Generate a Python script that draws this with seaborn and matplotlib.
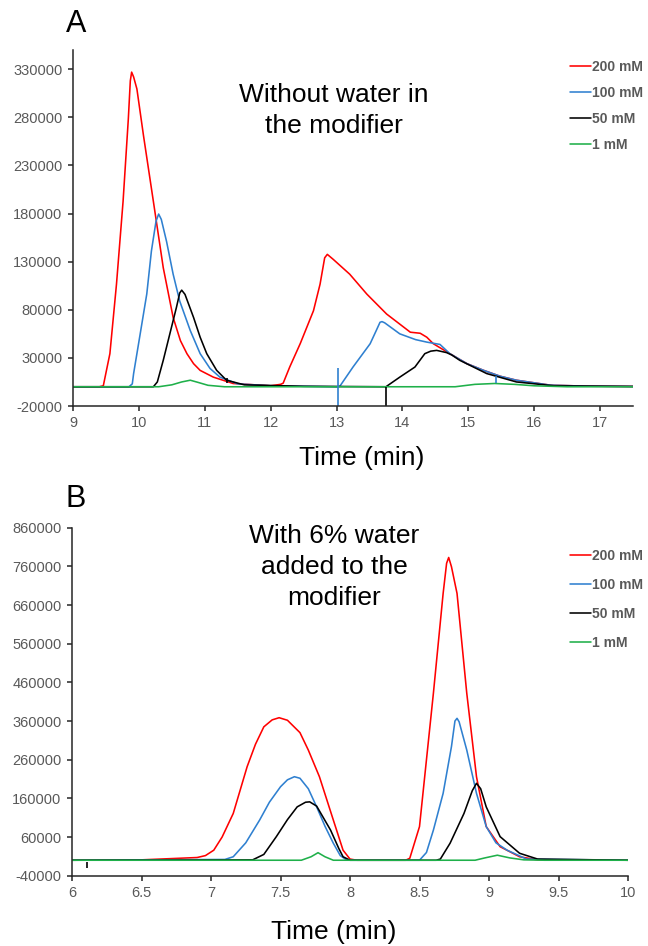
import matplotlib
matplotlib.use('Agg')
import matplotlib.pyplot as plt
import numpy as np
import pandas as pd
import seaborn as sns

##
# panel A : without water (time min, signal)
a_200_t = [9.0, 9.4, 9.46, 9.56, 9.66, 9.76, 9.84, 9.87, 9.89, 9.92, 9.97, 10.07, 10.22, 10.37, 10.52,
           10.63, 10.73, 10.83, 10.93, 11.13, 11.43, 12.0, 12.15, 12.19, 12.29, 12.45, 12.65, 12.75,
           12.82, 12.86, 12.95, 13.2, 13.46, 13.76, 14.12, 14.27, 14.37, 14.47, 14.72, 14.98, 15.23,
           15.48, 15.73, 16.24, 16.8, 17.5]
a_200_v = [0, 0, 1000, 34400, 106600, 192600, 278600, 318000, 327000, 322000, 309500, 261000, 192600,
           123700, 72000, 48000, 34300, 24000, 17000, 10000, 3400, 1000, 2500, 3700, 20600, 45000, 79000,
           106600, 134000, 137600, 132400, 117000, 96300, 75600, 56700, 55600, 51500, 44700, 34400,
           24000, 17100, 11000, 6800, 1700, 600, 300]

a_100_t = [9.0, 9.85, 9.9, 9.92, 10.02, 10.12, 10.19, 10.26, 10.30, 10.34, 10.42, 10.52, 10.62, 10.78,
           10.93, 11.08, 11.23, 11.5, 12.0, 13.0, 13.05, 13.25, 13.51, 13.6, 13.66, 13.69, 13.73, 13.8,
           13.96, 14.2, 14.37, 14.57, 14.72, 14.98, 15.23, 15.48, 15.73, 16.24, 16.8, 17.5]
a_100_v = [0, 0, 3000, 13700, 55000, 96500, 141000, 172000, 179500, 174000, 151000, 117000, 89000,
           58400, 34400, 19000, 10000, 3000, 1000, 0, 500, 20500, 44700, 58000, 67000, 67700, 66500,
           63000, 55000, 49000, 46400, 44000, 34400, 24000, 17100, 11000, 6800, 1700, 600, 300]

a_50_t = [9.0, 10.22, 10.28, 10.37, 10.47, 10.57, 10.62, 10.65, 10.7, 10.83, 10.93, 11.03, 11.18,
          11.33, 11.6, 12.5, 13.75, 13.96, 14.19, 14.34, 14.43, 14.52, 14.67, 14.75, 14.87, 15.28,
          15.73, 16.3, 17.5]
a_50_v = [0, 0, 5000, 27500, 55000, 82500, 97500, 100400, 96000, 72000, 51500, 34400, 17100,
          6800, 2000, 500, 0, 10000, 20500, 34400, 37000, 37800, 35500, 33000, 27500, 13700,
          5000, 1000, 300]

a_1_t = [9.0, 10.3, 10.5, 10.65, 10.78, 10.9, 11.05, 11.3, 14.8, 15.1, 15.4, 15.7, 16.0, 16.5, 17.5]
a_1_v = [0, 0, 2000, 5000, 6800, 4500, 1500, 0, 0, 2500, 3400, 2500, 1000, 0, 0]

# integration marks in A: time, from, to, series
a_mark_t = [11.33, 13.02, 13.75, 15.42]
a_mark_lo = [3400, -20000, -20000, 3400]
a_mark_hi = [8600, 19200, 0, 11000]
a_mark_s = ['50 mM', '100 mM', '50 mM', '100 mM']

##
# panel B : 6% water
b_200_t = [6.0, 6.5, 6.7, 6.9, 6.96, 7.02, 7.08, 7.16, 7.26, 7.32, 7.38, 7.44, 7.49, 7.55, 7.64, 7.7,
           7.78, 7.88, 7.95, 8.0, 8.05, 8.4, 8.43, 8.5, 8.55, 8.6, 8.67, 8.695, 8.71, 8.73, 8.77, 8.84,
           8.91, 8.98, 9.08, 9.22, 9.35, 10.0]
b_200_v = [0, 1000, 4000, 7000, 12000, 26000, 60000, 121000, 242000, 300000, 345000, 363000, 368600,
           362000, 330000, 285000, 216000, 104000, 26000, 3000, 0, 0, 5000, 87000, 259700, 432000,
           690000, 768000, 783000, 759000, 690000, 432000, 216000, 87000, 35000, 9000, 1000, 0]

b_100_t = [6.0, 7.1, 7.16, 7.25, 7.35, 7.42, 7.5, 7.55, 7.6, 7.64, 7.7, 7.76, 7.82, 7.88, 7.93, 7.97,
           8.0, 8.5, 8.55, 8.6, 8.67, 8.73, 8.755, 8.77, 8.785, 8.84, 8.91, 8.98, 9.05, 9.13, 9.27, 10.0]
b_100_v = [0, 2000, 9000, 45000, 104000, 150000, 190000, 208000, 216000, 212000, 185000, 138000, 88000,
           44000, 12000, 2000, 0, 0, 20000, 78000, 173000, 294000, 360000, 367000, 358000, 285000,
           173000, 87000, 45000, 26000, 3000, 0]

b_50_t = [6.0, 7.3, 7.38, 7.47, 7.55, 7.62, 7.68, 7.71, 7.76, 7.86, 7.92, 7.95, 8.0, 8.62, 8.65, 8.72,
          8.82, 8.88, 8.91, 8.94, 8.98, 9.08, 9.22, 9.35, 10.0]
b_50_v = [0, 1000, 15000, 61000, 105000, 138000, 150000, 151000, 140000, 78000, 30000, 9000, 0, 0,
          3000, 44000, 121000, 180000, 199000, 185000, 138000, 61000, 18000, 3000, 0]

b_1_t = [6.0, 7.65, 7.72, 7.77, 7.82, 7.88, 8.9, 8.97, 9.06, 9.15, 9.25, 9.4, 10.0]
b_1_v = [0, 0, 9000, 19500, 9000, 0, 0, 6000, 13000, 6000, 1000, 0, 0]

b_mark_t = [6.11]
b_mark_lo = [-20000]
b_mark_hi = [-4000]
b_mark_s = ['50 mM']

##
conc = ['200 mM', '100 mM', '50 mM', '1 mM']
colors = {'200 mM': '#FF0000', '100 mM': '#2F80D0', '50 mM': '#000000', '1 mM': '#1FB04A'}
gray = '#595959'


def to_long(series):
  rows = []
  for name, (t, v) in zip(conc, series):
    rows.append(pd.DataFrame({'time': t, 'signal': v, 'conc': name}))
  return pd.concat(rows, ignore_index=True)


dfa = to_long([(a_200_t, a_200_v), (a_100_t, a_100_v), (a_50_t, a_50_v), (a_1_t, a_1_v)])
dfb = to_long([(b_200_t, b_200_v), (b_100_t, b_100_v), (b_50_t, b_50_v), (b_1_t, b_1_v)])

##
sns.set_style('ticks')
plt.rcParams['font.family'] = ['Liberation Sans', 'DejaVu Sans']

fig = plt.figure(figsize=(6.48, 9.46), dpi=100)
axa = fig.add_axes([73 / 648, 1 - 406 / 946, 560 / 648, 356 / 946])
axb = fig.add_axes([72 / 648, 1 - 875.7 / 946, 556 / 648, 348 / 946])


def draw(ax, df, mt, mlo, mhi, ms, xlim, xticks, ylim, yticks, leg_top, lspace):
  sns.lineplot(data=df, x='time', y='signal', hue='conc', hue_order=conc, palette=colors,
               estimator=None, sort=False, linewidth=1.15, ax=ax)
  ax.vlines(mt, mlo, mhi, colors=[colors[s] for s in ms], linewidth=1.2)
  ax.set_xlim(*xlim)
  ax.set_ylim(*ylim)
  ax.set_xticks(xticks)
  ax.set_yticks(yticks)
  ax.set_xticklabels(['{:g}'.format(x) for x in xticks])
  ax.set_yticklabels(['{:d}'.format(int(y)) for y in yticks])
  sns.despine(ax=ax)
  for sp in ['left', 'bottom']:
    ax.spines[sp].set_color('#262626')
    ax.spines[sp].set_linewidth(1.1)
  ax.tick_params(axis='both', direction='out', length=3.5, width=1.1, color='#262626',
                 labelcolor=gray, labelsize=10.5, pad=4)
  ax.set_ylabel('')
  ax.set_xlabel('Time (min)', fontsize=19, color='black')
  ax.xaxis.label.set_va('center')
  handles, labels = ax.get_legend_handles_labels()
  ax.legend(handles[:4], labels[:4], loc='upper left', bbox_to_anchor=(570 / 648, leg_top),
            bbox_transform=fig.transFigure, frameon=False, handlelength=1.5, handletextpad=0.1,
            labelspacing=lspace, borderpad=0, borderaxespad=0,
            prop={'weight': 'bold', 'size': 10}, labelcolor=gray)


draw(axa, dfa, a_mark_t, a_mark_lo, a_mark_hi, a_mark_s, (9, 17.5), list(range(9, 18)),
     (-20000, 350000), np.arange(-20000, 330001, 50000), 1 - 60 / 946, 0.87)
draw(axb, dfb, b_mark_t, b_mark_lo, b_mark_hi, b_mark_s, (6, 10), list(np.arange(6, 10.01, 0.5)),
     (-40000, 860000), np.arange(-40000, 860001, 100000), 1 - 549 / 946, 1.08)

axa.xaxis.set_label_coords(362 / 648, 1 - 458 / 946, transform=fig.transFigure)
axb.xaxis.set_label_coords(334 / 648, 1 - 932 / 946, transform=fig.transFigure)

##
fig.text(334 / 648, 1 - 110.5 / 946, 'Without water in\nthe modifier', fontsize=19, color='black',
         ha='center', va='center', multialignment='center', linespacing=1.38)
fig.text(334 / 648, 1 - 567 / 946, 'With 6% water\nadded to the\nmodifier', fontsize=19, color='black',
         ha='center', va='center', multialignment='center', linespacing=1.38)
fig.text(66 / 648, 1 - 24 / 946, 'A', fontsize=22, color='black', ha='left', va='center')
fig.text(66 / 648, 1 - 499 / 946, 'B', fontsize=22, color='black', ha='left', va='center')

plt.savefig('out.png', dpi=100)
